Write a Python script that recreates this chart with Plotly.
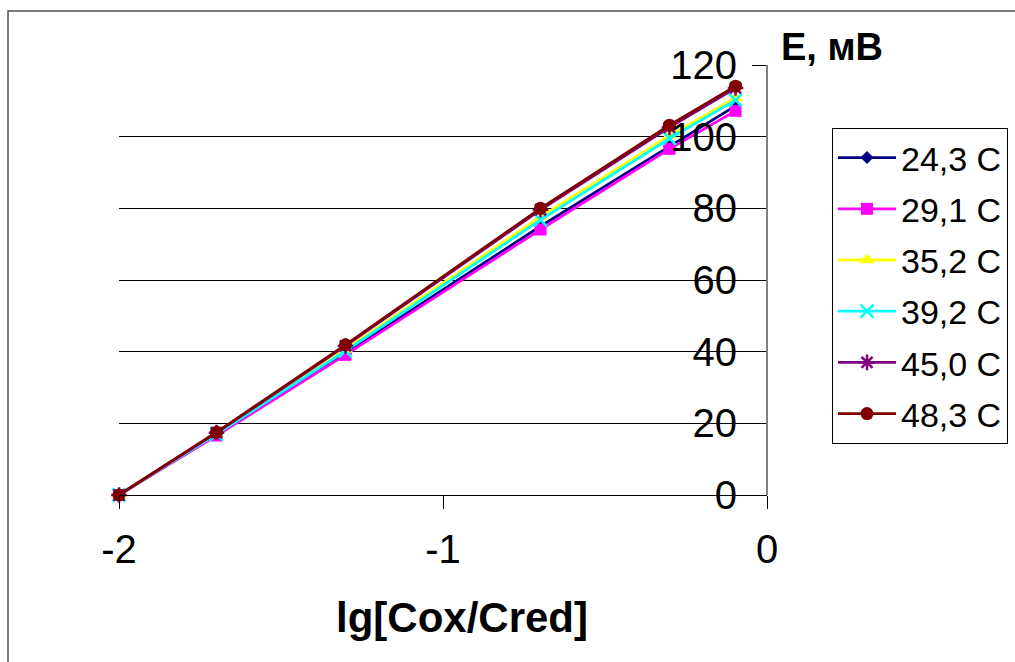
import plotly.graph_objects as go

# lg of the concentration ratio Cox/Cred
lg_ratio = [-2.0, -1.699, -1.301, -0.699, -0.301, -0.097]

# electrode potential E, mV, at each temperature
e_24_3 = [0, 16.9, 39.6, 75.0, 97.3, 108.6]
e_29_1 = [0, 16.6, 39.1, 74.1, 96.6, 107.2]
e_35_2 = [0, 17.2, 40.6, 77.6, 100.3, 110.8]
e_39_2 = [0, 17.0, 40.2, 76.8, 99.5, 110.2]
e_45_0 = [0, 17.4, 41.6, 79.6, 102.6, 113.6]
e_48_3 = [0, 17.5, 41.9, 80.0, 103.2, 114.1]

series_names = ["24,3 C", "29,1 C", "35,2 C", "39,2 C", "45,0 C", "48,3 C"]
series_values = [e_24_3, e_29_1, e_35_2, e_39_2, e_45_0, e_48_3]

x_tickvals = [-2, -1, 0]
x_ticktext = ["-2", "-1", "0"]
y_tickvals = [0, 20, 40, 60, 80, 100, 120]

styles = [
    dict(color="#000080", symbol="diamond", size=10),
    dict(color="#FF00FF", symbol="square", size=12),
    dict(color="#FFFF00", symbol="triangle-up", size=13),
    dict(color="#00FFFF", symbol="x-thin-open", size=13),
    dict(color="#800080", symbol="asterisk-open", size=13),
    dict(color="#800000", symbol="circle", size=13),
]

FONT = "Arial, Liberation Sans, sans-serif"

# plot-area geometry in pixels
W, H = 1015, 662
L, R, T, B = 119, 767, 65, 495


def px_x(p):
    return (p - L) / (R - L)


def px_y(p):
    return (B - p) / (B - T)


fig = go.Figure()
for i, (name, vals, st) in enumerate(zip(series_names, series_values, styles)):
    line_marker = dict(symbol=st["symbol"], size=st["size"], color=st["color"])
    if st["symbol"].endswith("open"):
        line_marker["line"] = dict(color=st["color"], width=2.5)
    fig.add_trace(go.Scatter(
        x=lg_ratio, y=vals, name=name, mode="lines+markers",
        line=dict(color=st["color"], width=2.8),
        marker=line_marker,
        legendgroup=f"g{i}",
        cliponaxis=False,
    ))

fig.update_layout(
    width=W, height=H, autosize=False,
    margin=dict(l=L, r=W - R, t=T, b=H - B, pad=0, autoexpand=False),
    paper_bgcolor="white", plot_bgcolor="white",
    font=dict(family=FONT, size=34, color="black"),
    showlegend=True,
    legend=dict(
        x=px_x(832), y=px_y(128), xanchor="left", yanchor="top",
        bordercolor="black", borderwidth=1, bgcolor="white",
        font=dict(family=FONT, size=34, color="black"),
        tracegroupgap=4, traceorder="grouped", itemwidth=58,
    ),
    xaxis=dict(
        range=[-2, 0], tickvals=x_tickvals, ticktext=x_ticktext,
        showgrid=False, zeroline=False,
        showline=True, linecolor="black", linewidth=1,
        ticks="outside", ticklen=13, tickcolor="black",
        ticklabelstandoff=6,
        tickfont=dict(family=FONT, size=40, color="black"),
        anchor="y",
    ),
    yaxis=dict(
        range=[0, 120], tickvals=y_tickvals,
        anchor="free", position=1, side="left",
        showgrid=True, gridcolor="black", gridwidth=1,
        zeroline=False,
        showline=True, linecolor="#808080", linewidth=2,
        ticks="outside", ticklen=14, tickcolor="black",
        ticklabelstandoff=7,
        tickfont=dict(family=FONT, size=40, color="black"),
    ),
    annotations=[
        dict(text="<b>E, мВ</b>", xref="paper", yref="paper",
             x=px_x(779), y=px_y(47), xanchor="left", yanchor="middle",
             showarrow=False, font=dict(family=FONT, size=38, color="black")),
        dict(text="<b>lg[Cox/Cred]</b>", xref="paper", yref="paper",
             x=px_x(462), y=px_y(617), xanchor="center", yanchor="middle",
             showarrow=False, font=dict(family=FONT, size=42, color="black")),
    ],
    shapes=[
        dict(type="rect", xref="paper", yref="paper",
             x0=px_x(8), y0=px_y(H + 50), x1=px_x(W + 50), y1=px_y(11),
             line=dict(color="#505050", width=1.5), layer="below"),
    ],
)

fig.write_html("out.html")
